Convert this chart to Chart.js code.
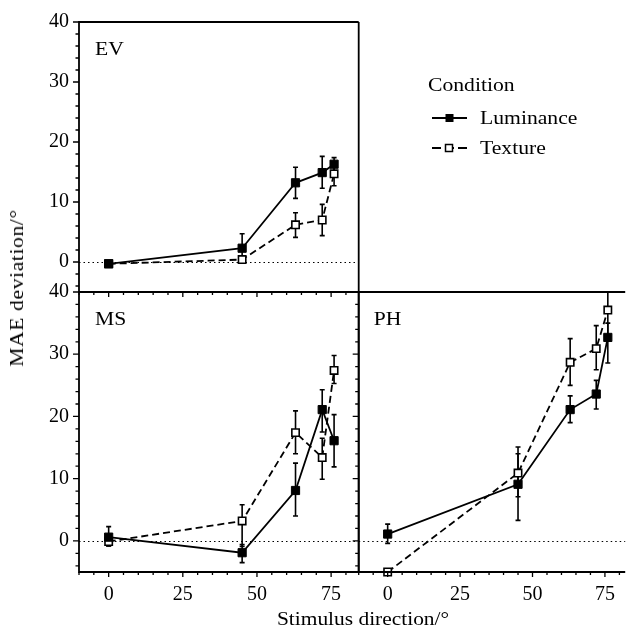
<!DOCTYPE html>
<html>
<head>
<meta charset="utf-8">
<script src="https://cdn.jsdelivr.net/npm/chart.js@4.4.1/dist/chart.umd.min.js"></script>
<style>
  body { margin: 0; background: #fff; }
  #wrap { position: relative; width: 632px; height: 627px; font-family: "Liberation Serif", serif; color: #000; }
  #wrap canvas { position: absolute; left: 0; top: 0; }
  .txt { position: absolute; white-space: nowrap; line-height: 20px; }
  .legend-row { position: absolute; left: 432px; height: 20px; }
  .legend-row svg { position: absolute; left: 0; top: 0; }
  .legend-row span { position: absolute; left: 48px; top: 0; font-size: 19px; line-height: 20px; white-space: nowrap; transform: scaleX(1.14); transform-origin: 0 50%; }
</style>
</head>
<body>
<div id="wrap">
  <canvas id="ev" width="632" height="627"></canvas>
  <canvas id="ms" width="632" height="627"></canvas>
  <canvas id="ph" width="632" height="627"></canvas>

  <div class="txt" style="left:428px; top:75px; font-size:19px; transform:scaleX(1.14); transform-origin:0 50%;">Condition</div>
  <div class="legend-row" style="top:108px;">
    <svg width="40" height="20"><line x1="0" y1="10" x2="35" y2="10" stroke="#000" stroke-width="1.8"/><rect x="13.5" y="6" width="8" height="8" fill="#000"/></svg>
    <span>Luminance</span>
  </div>
  <div class="legend-row" style="top:138px;">
    <svg width="40" height="20"><line x1="0" y1="10" x2="35" y2="10" stroke="#000" stroke-width="1.8" stroke-dasharray="9 4 9 4 9"/><rect x="13.5" y="6.5" width="7" height="7" fill="#fff" stroke="#000" stroke-width="1.5"/></svg>
    <span>Texture</span>
  </div>

  <div class="txt" style="left:363px; top:609px; font-size:18px; transform:translateX(-50%) scaleX(1.19);">Stimulus direction/°</div>
  <div class="txt" style="left:17px; top:288px; font-size:18px; letter-spacing:0.5px; transform:translate(-50%,-50%) rotate(-90deg) scaleX(1.2);">MAE deviation/°</div>
</div>

<script>
// stimulus directions (deg) and axis tick labels
const xValues = [0, 45, 63, 72, 76];
const xTicks = [0, 25, 50, 75];
const yTicks = [0, 10, 20, 30, 40];

// EV
const evLum   = [-0.3, 2.3, 13.2, 14.9, 16.3];
const evLumLo = [-0.6, 0.0, 10.6, 12.3, 15.2];
const evLumHi = [0.0, 4.7, 15.8, 17.6, 17.4];
const evTex   = [-0.3, 0.4, 6.2, 7.0, 14.7];
const evTexLo = [-0.6, 0.0, 4.1, 4.4, 12.7];
const evTexHi = [0.0, 0.8, 8.2, 9.6, 16.2];

// MS
const msLum   = [0.6, -1.9, 8.1, 21.1, 16.1];
const msLumLo = [-0.8, -3.5, 4.0, 17.5, 11.9];
const msLumHi = [2.3, -0.6, 12.5, 24.3, 20.3];
const msTex   = [-0.1, 3.2, 17.4, 13.4, 27.4];
const msTexLo = [-0.8, -0.9, 14.0, 9.9, 25.3];
const msTexHi = [0.5, 5.8, 20.9, 16.5, 29.8];

// PH
const phLum   = [1.1, 9.1, 21.1, 23.6, 32.7];
const phLumLo = [-0.4, 3.3, 19.0, 21.2, 28.6];
const phLumHi = [2.7, 14.0, 23.3, 25.8, 35.0];
const phTex   = [-5.0, 10.9, 28.7, 30.9, 37.1];
const phTexLo = [-5.0, 7.1, 25.0, 27.5, 33.0];
const phTexHi = [-5.0, 15.1, 32.5, 34.6, 40.0];

const FONT = '"Liberation Serif", serif';

// zero line, error bars, frame, minor ticks, panel label
const panelDeco = {
  id: 'panelDeco',
  beforeDatasetsDraw(chart) {
    const { ctx, chartArea: a, scales: { x, y } } = chart;
    ctx.save();
    ctx.strokeStyle = '#000';
    ctx.lineWidth = 1;
    ctx.setLineDash([1.5, 3]);
    const y0 = Math.round(y.getPixelForValue(0)) + 0.5;
    ctx.beginPath();
    ctx.moveTo(a.left, y0);
    ctx.lineTo(a.right, y0);
    ctx.stroke();
    ctx.setLineDash([]);
    ctx.lineWidth = 1.6;
    chart.data.datasets.forEach(ds => {
      ds.data.forEach((p, i) => {
        const px = x.getPixelForValue(p.x);
        const t = y.getPixelForValue(ds.hi[i]);
        const b = y.getPixelForValue(ds.lo[i]);
        ctx.beginPath();
        ctx.moveTo(px, t); ctx.lineTo(px, b);
        ctx.moveTo(px - 2.5, t); ctx.lineTo(px + 2.5, t);
        ctx.moveTo(px - 2.5, b); ctx.lineTo(px + 2.5, b);
        ctx.stroke();
      });
    });
    ctx.restore();
  },
  afterDraw(chart) {
    const o = chart.options.plugins.panelDeco;
    const { ctx, chartArea: a, scales: { x, y } } = chart;
    ctx.save();
    ctx.strokeStyle = '#000';
    ctx.lineWidth = 1.8;
    ctx.beginPath();
    if (o.top) { ctx.moveTo(a.left, a.top); ctx.lineTo(a.right, a.top); }
    if (o.right) { ctx.moveTo(a.right, a.top); ctx.lineTo(a.right, a.bottom); }
    ctx.moveTo(a.left, a.top - 0.9); ctx.lineTo(a.left, a.bottom + 0.9);
    ctx.moveTo(a.left, a.bottom); ctx.lineTo(a.right, a.bottom);
    ctx.stroke();

    ctx.lineWidth = 1.3;
    ctx.beginPath();
    for (let v = -4; v <= 40; v += 2) {
      const py = y.getPixelForValue(v);
      const len = v % 10 === 0 ? 6 : 3.5;
      ctx.moveTo(a.left, py); ctx.lineTo(a.left - len, py);
    }
    for (let v = -10; v <= x.max; v += 5) {
      const px = x.getPixelForValue(v);
      const len = v % 25 === 0 ? 5 : 3;
      ctx.moveTo(px, a.bottom); ctx.lineTo(px, a.bottom + len);
    }
    ctx.stroke();

    ctx.fillStyle = '#000';
    ctx.font = '18px ' + FONT;
    ctx.textBaseline = 'alphabetic';
    ctx.translate(a.left + o.labelDx, a.top + 33);
    ctx.scale(1.2, 1);
    ctx.fillText(o.label, 0, 0);
    ctx.restore();
  }
};

function makePanel(id, p) {
  const pts = arr => xValues.map((v, i) => ({ x: v, y: arr[i] }));
  new Chart(document.getElementById(id), {
    type: 'line',
    data: {
      datasets: [
        {
          label: 'Luminance',
          data: pts(p.lum), lo: p.lumLo, hi: p.lumHi,
          borderColor: '#000', backgroundColor: '#000', borderWidth: 1.8,
          pointStyle: 'rect', pointRadius: 5.8, pointBorderWidth: 1,
          pointBackgroundColor: '#000', clip: false
        },
        {
          label: 'Texture',
          data: pts(p.tex), lo: p.texLo, hi: p.texHi,
          borderColor: '#000', backgroundColor: '#fff', borderWidth: 1.8, borderDash: [7, 4],
          pointStyle: 'rect', pointRadius: 5.2, pointBorderWidth: 1.6,
          pointBackgroundColor: '#fff', clip: false
        }
      ]
    },
    options: {
      responsive: false,
      animation: false,
      devicePixelRatio: 1,
      layout: {
        padding: { left: p.left - p.yW, top: p.top, right: 632 - p.right, bottom: 627 - p.bottom - p.xH }
      },
      scales: {
        x: {
          type: 'linear', min: -10, max: p.xMax,
          grid: { display: false, drawTicks: false }, border: { display: false },
          afterBuildTicks: s => { s.ticks = xTicks.map(v => ({ value: v })); },
          afterFit: s => { s.height = p.xH; },
          ticks: { display: p.xLabels, padding: 11, color: '#000', font: { family: FONT, size: 20 }, maxRotation: 0, autoSkip: false }
        },
        y: {
          type: 'linear', min: -5, max: 40,
          grid: { display: false, drawTicks: false }, border: { display: false },
          afterBuildTicks: s => { s.ticks = yTicks.map(v => ({ value: v })); },
          afterFit: s => { s.width = p.yW; },
          ticks: { display: p.yLabels, padding: 10, color: '#000', font: { family: FONT, size: 20 } }
        }
      },
      plugins: {
        legend: { display: false },
        tooltip: { enabled: false },
        panelDeco: { label: p.label, labelDx: p.labelDx, top: p.frameTop, right: p.frameRight }
      }
    },
    plugins: [panelDeco]
  });
}

makePanel('ev', {
  lum: evLum, lumLo: evLumLo, lumHi: evLumHi, tex: evTex, texLo: evTexLo, texHi: evTexHi,
  left: 79, right: 358.7, top: 13, bottom: 292, yW: 79, xH: 10, xMax: 84.3,
  xLabels: false, yLabels: true, label: 'EV', labelDx: 16, frameTop: true, frameRight: true
});
makePanel('ms', {
  lum: msLum, lumLo: msLumLo, lumHi: msLumHi, tex: msTex, texLo: msTexLo, texHi: msTexHi,
  left: 79, right: 358.7, top: 292, bottom: 572, yW: 79, xH: 40, xMax: 84.3,
  xLabels: true, yLabels: true, label: 'MS', labelDx: 16, frameTop: true, frameRight: true
});
makePanel('ph', {
  lum: phLum, lumLo: phLumLo, lumHi: phLumHi, tex: phTex, texLo: phTexLo, texHi: phTexHi,
  left: 358.7, right: 632, top: 292, bottom: 572, yW: 10, xH: 40, xMax: 82,
  xLabels: true, yLabels: false, label: 'PH', labelDx: 15, frameTop: true, frameRight: false
});
</script>
</body>
</html>
